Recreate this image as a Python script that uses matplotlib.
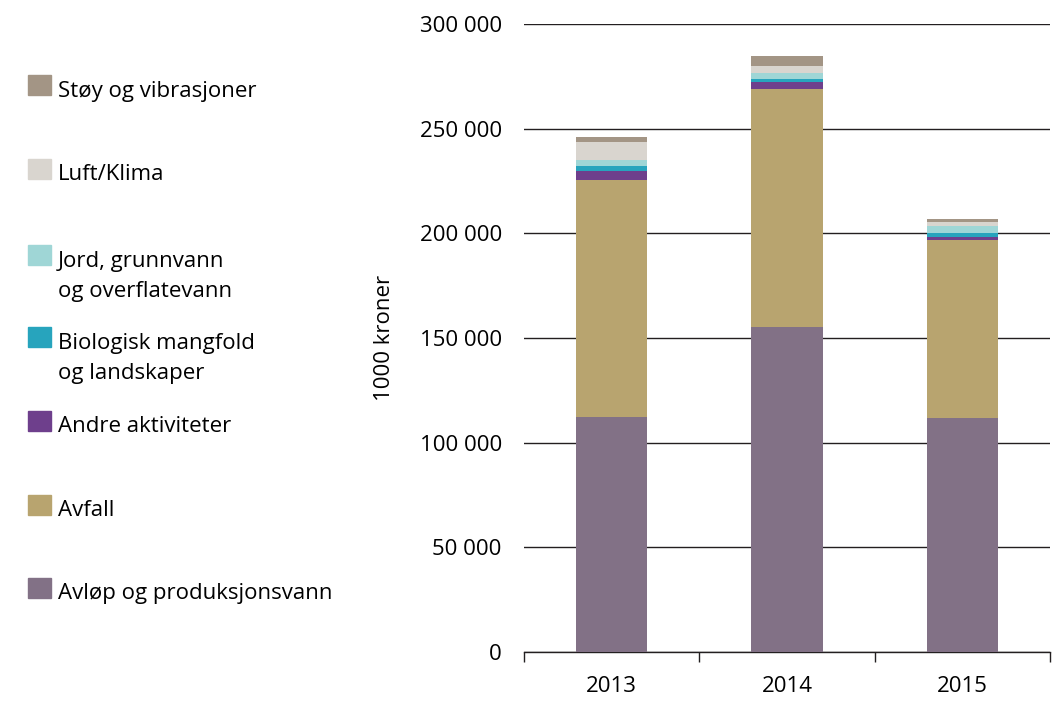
import matplotlib
matplotlib.use("Agg")
import matplotlib.pyplot as plt
from matplotlib.patches import Rectangle
import numpy as np

plt.rcParams['font.family'] = ['Open Sans', 'DejaVu Sans']

years = ["2013", "2014", "2015"]
avlop = [112300, 155300, 111800]
avfall = [113200, 113700, 85000]
andre = [4300, 3300, 1400]
bio = [2400, 1400, 1900]
jord = [2900, 2900, 3300]
luft = [8600, 3300, 1900]
stoy = [2400, 4800, 1400]
series = [avlop, avfall, andre, bio, jord, luft, stoy]
colors = ["#827186", "#b8a46f", "#6e3f8c", "#27a4bd", "#9fd6d6", "#d9d5cf", "#a39585"]
yticks = [0, 50000, 100000, 150000, 200000, 250000, 300000]
ytick_labels = ["0", "50 000", "100 000", "150 000", "200 000", "250 000", "300 000"]

legend_labels = [["Støy og vibrasjoner"], ["Luft/Klima"],
                 ["Jord, grunnvann", "og overflatevann"],
                 ["Biologisk mangfold", "og landskaper"],
                 ["Andre aktiviteter"], ["Avfall"], ["Avløp og produksjonsvann"]]
legend_colors = ["#a39585", "#d9d5cf", "#9fd6d6", "#27a4bd", "#6e3f8c", "#b8a46f", "#827186"]
legend_ypix = [88, 172, 258, 340, 424, 508, 591]

W, H = 1061, 702
fig = plt.figure(figsize=(W / 100, H / 100), dpi=100)
ax = fig.add_axes([524 / W, 1 - 652 / H, (1050 - 524) / W, (652 - 24) / H])

x = np.arange(len(years))
bottom = np.zeros(len(years))
for vals, c in zip(series, colors):
    ax.bar(x, vals, width=0.405, bottom=bottom, color=c, zorder=3)
    bottom += np.array(vals)

FS = 16
ax.set_xlim(-0.5, 2.5)
ax.set_ylim(0, 300000)
ax.set_yticks(yticks)
ax.set_yticklabels(ytick_labels, fontsize=FS)
ax.yaxis.grid(True, color="#231f20", linewidth=1.0, zorder=0)
ax.set_axisbelow(True)
ax.tick_params(axis="y", length=0, pad=16)
for s in ["left", "right", "top"]:
    ax.spines[s].set_visible(False)
ax.spines["bottom"].set_color("#231f20")
ax.spines["bottom"].set_linewidth(1.0)
ax.set_xticks(x)
ax.set_xticklabels(years, fontsize=FS)
ax.tick_params(axis="x", length=0, pad=17)
ax.set_xticks([-0.5, 0.5, 1.5, 2.5], minor=True)
ax.tick_params(axis="x", which="minor", length=7, color="#231f20", width=1.0)
ax.set_ylabel("1000 kroner", fontsize=FS, labelpad=18)

for lines, c, ypix in zip(legend_labels, legend_colors, legend_ypix):
    fig.patches.append(Rectangle((28 / W, 1 - (ypix + 7) / H), 23 / W, 20 / H,
                                 transform=fig.transFigure, color=c))
    for i, line in enumerate(lines):
        fig.text(58 / W, 1 - (ypix + 3 + 30 * i) / H, line, fontsize=FS, va="center", ha="left")

fig.savefig("out.png", dpi=100)
